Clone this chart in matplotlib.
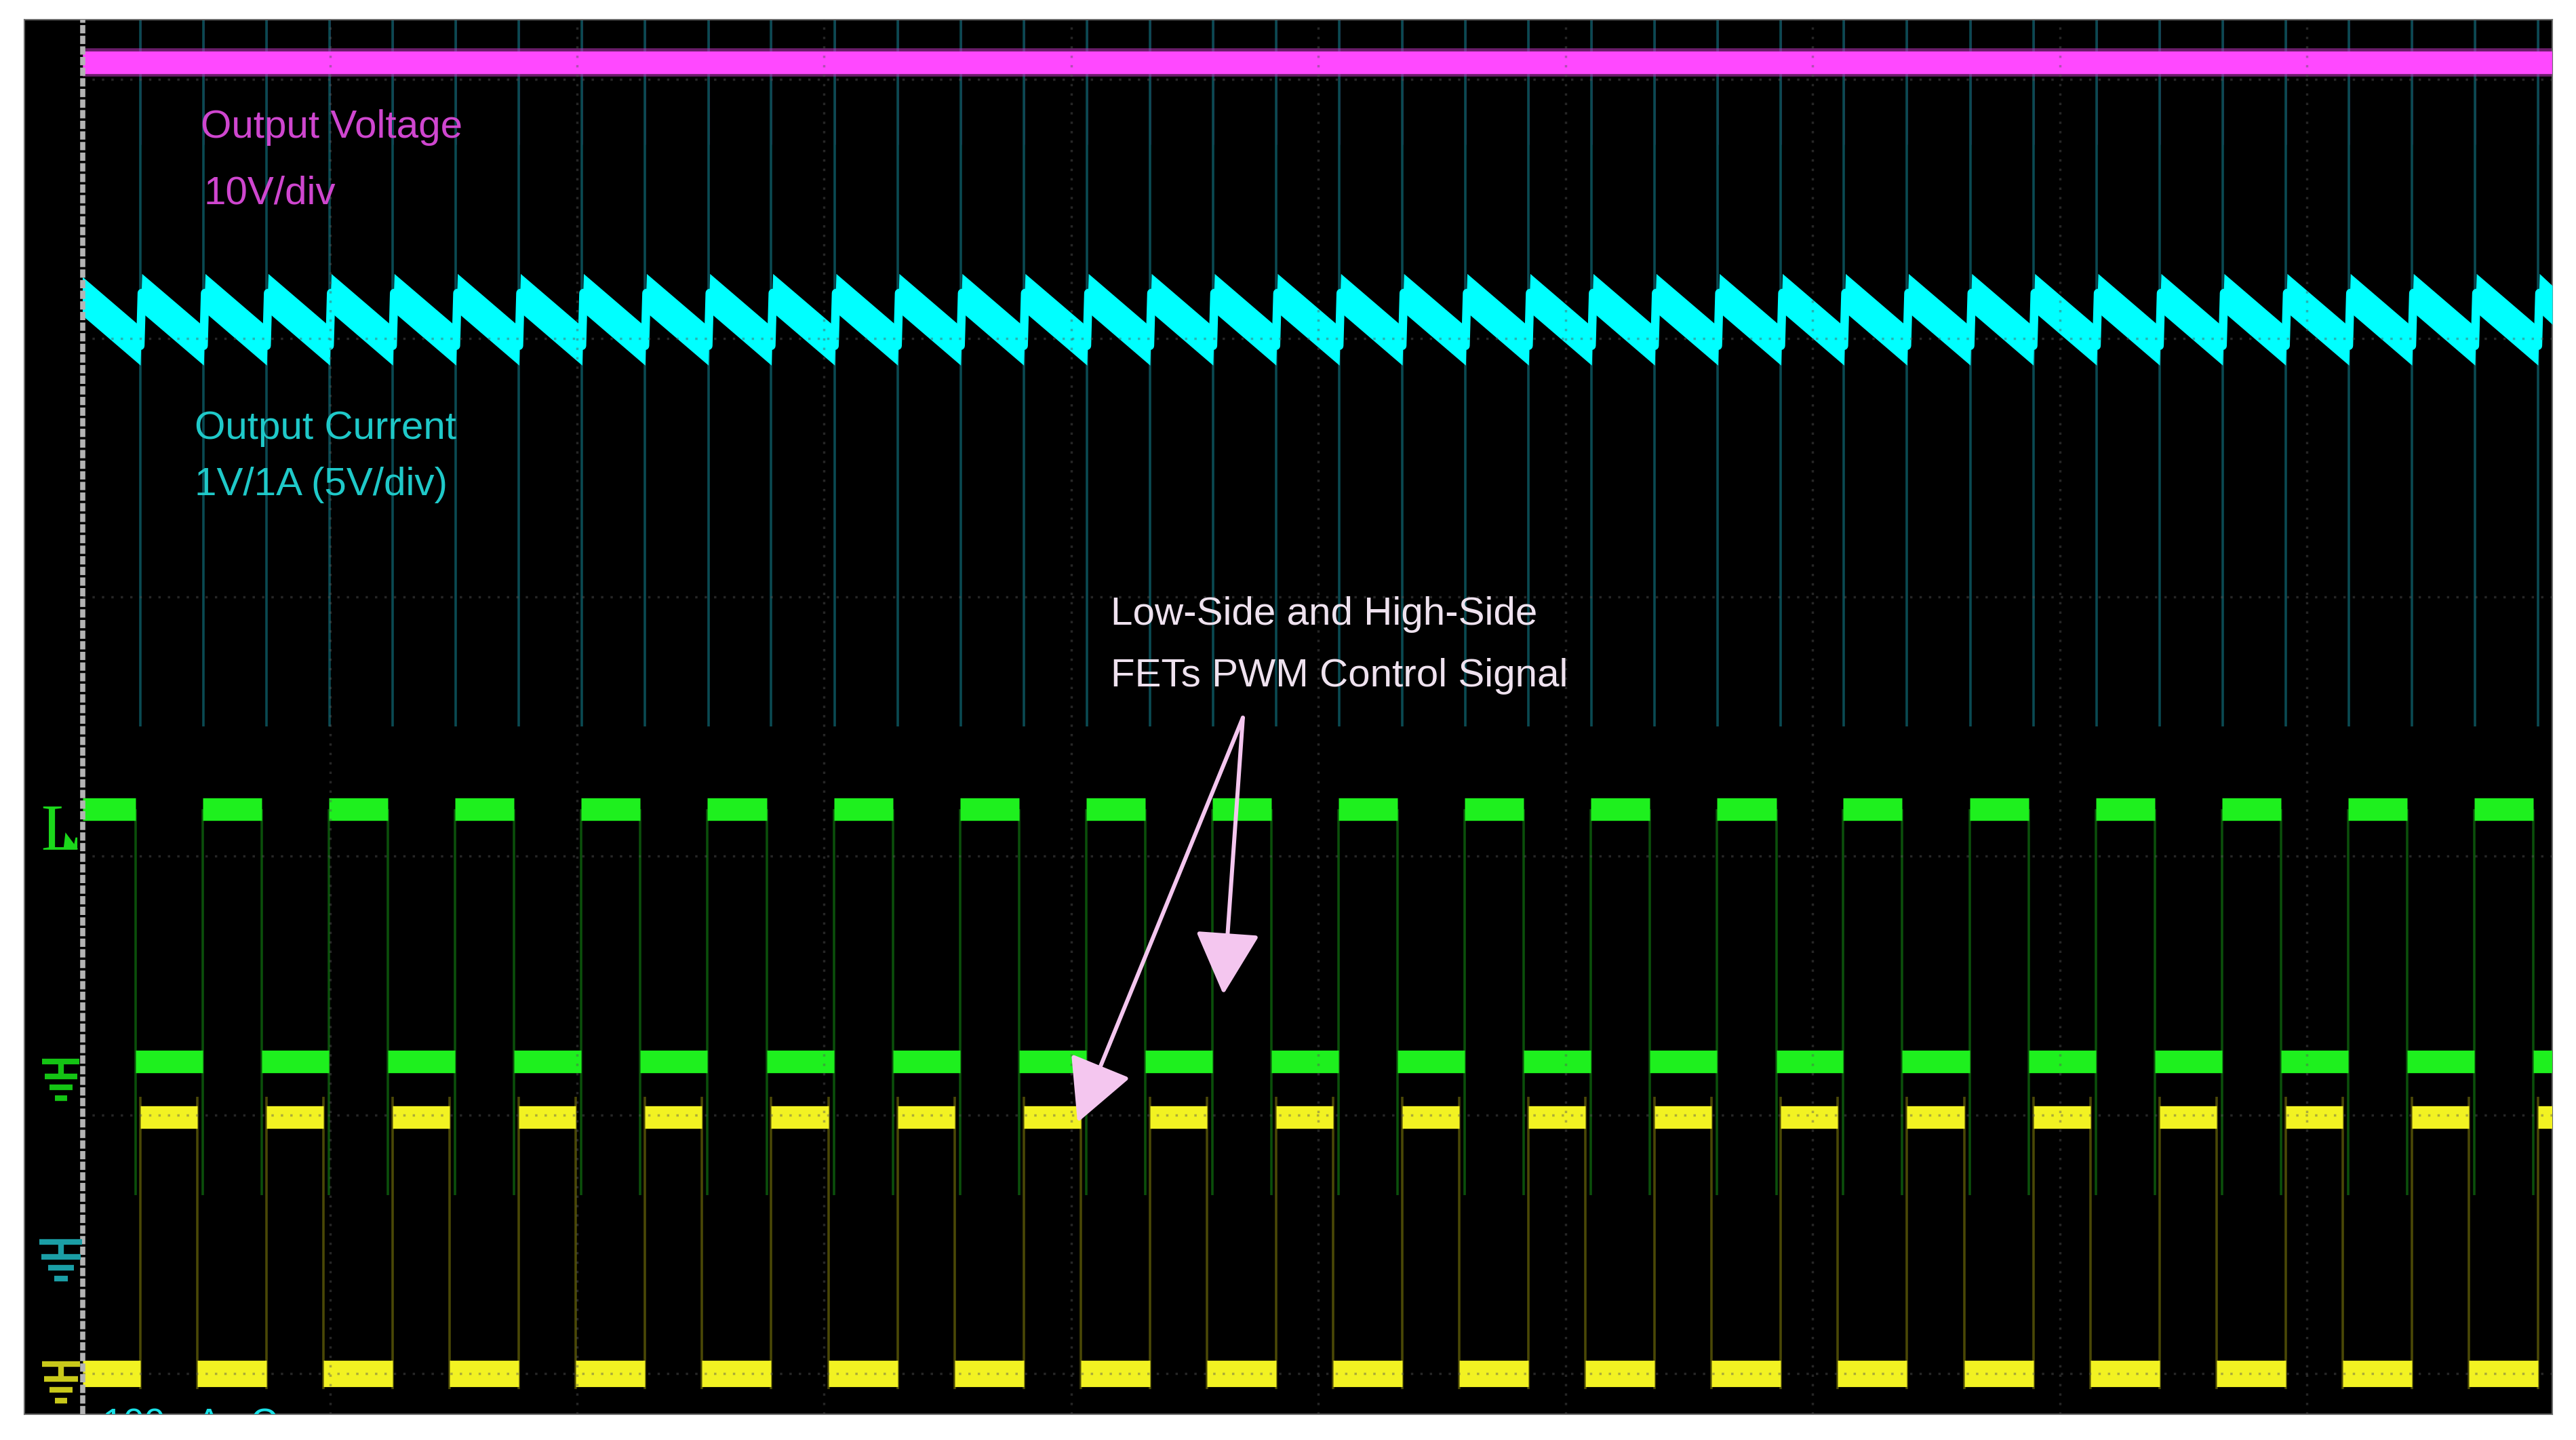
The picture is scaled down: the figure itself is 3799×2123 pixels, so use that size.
import matplotlib
matplotlib.use('Agg')
import matplotlib.pyplot as plt
from matplotlib.patches import Rectangle
import numpy as np

# scope screen: time in divisions (10 across), amplitude in divisions
# edges
green_rise = [-0.025, 0.486, 0.996, 1.507, 2.017, 2.528, 3.039, 3.549, 4.060, 4.570,
              5.081, 5.592, 6.102, 6.613, 7.123, 7.634, 8.145, 8.655, 9.166, 9.676]
green_fall = [0.214, 0.725, 1.235, 1.746, 2.256, 2.767, 3.278, 3.788, 4.299, 4.809,
              5.320, 5.831, 6.341, 6.852, 7.362, 7.873, 8.384, 8.894, 9.405, 9.915]
yellow_rise = [0.233, 0.744, 1.254, 1.765, 2.275, 2.786, 3.297, 3.807, 4.318, 4.828,
               5.339, 5.850, 6.360, 6.871, 7.381, 7.892, 8.403, 8.913, 9.424, 9.934]
yellow_fall = [0.464, 0.974, 1.485, 1.995, 2.506, 3.017, 3.527, 4.038, 4.548, 5.059,
               5.570, 6.080, 6.591, 7.101, 7.612, 8.123, 8.633, 9.144, 9.654]
# output current ripple: start of each sawtooth ramp
iout_ramp = [-0.022, 0.233, 0.489, 0.744, 0.999, 1.254, 1.510, 1.765, 2.020, 2.275,
             2.531, 2.786, 3.042, 3.297, 3.552, 3.807, 4.063, 4.318, 4.573, 4.828,
             5.084, 5.339, 5.595, 5.850, 6.105, 6.360, 6.616, 6.871, 7.126, 7.381,
             7.637, 7.892, 8.148, 8.403, 8.658, 8.913, 9.169, 9.424, 9.679, 9.934]

vout_level = 5.066
iout_peak = 4.175
iout_valley = 3.971
green_high = 2.18
green_low = 1.205
yellow_high = 0.99
yellow_low = 0.0

XMIN, XMAX = -0.236, 9.992
YMIN, YMAX = -0.157, 5.231

fam = ['Liberation Sans Narrow', 'Liberation Sans', 'DejaVu Sans']

fig = plt.figure(figsize=(37.99, 21.23), dpi=100, facecolor='white')
ax = fig.add_axes([36 / 3799, 38 / 2123, 3728 / 3799, 2056 / 2123])
ax.set_facecolor('black')
ax.set_xlim(XMIN, XMAX)
ax.set_ylim(YMIN, YMAX)
ax.set_xticks([])
ax.set_yticks([])
for s in ax.spines.values():
    s.set_color('#6a6a6a')
    s.set_linewidth(1.5)

screen = Rectangle((0, YMIN), XMAX, YMAX - YMIN, transform=ax.transData)


def clip(art):
    if isinstance(art, list):
        for a in art:
            a.set_clip_path(screen)
    else:
        art.set_clip_path(screen)


# output voltage
clip(ax.vlines(iout_ramp, 4.75, YMAX, color='#561656', lw=2.2, zorder=1))
clip(ax.hlines(vout_level, 0, XMAX, color='#b030b0', lw=30, alpha=0.6, zorder=2))
clip(ax.hlines(vout_level, 0, XMAX, color='#ff48ff', lw=24, zorder=3))

# output current spikes + sawtooth
clip(ax.vlines(iout_ramp, 2.5, YMAX, color='#0a4a52', lw=2.6, zorder=1))
dt = 0.006
xs, ys = [], []
for a, b in zip(iout_ramp[:-1], iout_ramp[1:]):
    xs += [a, a + dt]
    ys += [iout_valley, iout_peak]
last = iout_ramp[-1]
span = iout_ramp[-1] - iout_ramp[-2]
xs += [last, last + dt, XMAX]
ys += [iout_valley, iout_peak, iout_peak - (iout_peak - iout_valley) * (XMAX - last) / span]
xs = np.array(xs)
ys = np.array(ys)
clip(ax.fill_between(xs, ys - 0.075, ys + 0.075, color='#00ffff', lw=0, zorder=3))
clip(ax.plot(xs, ys, color='#00ffff', lw=9, zorder=3))

# gate drive signals: dim edges first
g_edges = green_rise + green_fall
clip(ax.vlines(g_edges, 0.69, green_high, color='#0b4f0b', lw=2.6, zorder=1))
y_edges = yellow_rise + yellow_fall
clip(ax.vlines(y_edges, -0.06, yellow_high + 0.08, color='#4a4806', lw=2.6, zorder=1))

g_hi = list(zip(green_rise, green_fall))
g_lo = list(zip(green_fall, green_rise[1:] + [XMAX]))
for a, b in g_hi:
    clip(ax.hlines(green_high, max(a, 0), b, color='#1ef01e', lw=24, zorder=3))
for a, b in g_lo:
    clip(ax.hlines(green_low, a, b, color='#1ef01e', lw=24, zorder=3))

y_hi = list(zip(yellow_rise, yellow_fall + [XMAX]))
y_lo = list(zip([0.0] + yellow_fall, yellow_rise))
for a, b in y_hi:
    clip(ax.hlines(yellow_high, a, b, color='#f2f222', lw=24, zorder=3))
for a, b in y_lo:
    clip(ax.hlines(yellow_low, a, b, color='#f2f222', lw=28, zorder=3))

# graticule, drawn over the traces like the scope does
for gx in range(1, 10):
    ax.vlines(gx, YMIN, YMAX, color='#555555', alpha=0.45, lw=2.5,
              linestyles=(0, (1, 3)), zorder=5)
for gy in range(0, 6):
    ax.hlines(gy, 0, XMAX, color='#555555', alpha=0.45, lw=2.5,
              linestyles=(0, (1, 3)), zorder=5)
ax.plot([0, 0], [YMIN, YMAX], color='#b4b4b4', lw=5.5, ls=(0, (1.6, 0.45)),
        dash_capstyle='butt', zorder=6)

# channel markers in the left strip
ax.text(-0.17, 2.026, 'L', family=['Liberation Serif', 'DejaVu Serif'], fontsize=70,
        color='#1bd81b', va='baseline', ha='left', zorder=6)
ax.fill([-0.078, -0.019, -0.070], [2.026, 2.026, 2.091], color='#1bd81b', lw=0, zorder=6)


def ground(xc, ytop, color, widths):
    dys = [0, -0.058, -0.100, -0.142]
    for dy, w in zip(dys, widths):
        ax.hlines(ytop + dy, xc - w / 2, xc + w / 2, color=color, lw=6, zorder=6)
    ax.vlines(xc, ytop + dys[1], ytop, color=color, lw=6, zorder=6)


ground(-0.088, 1.205, '#14c414', [0.151, 0.132, 0.091, 0.047])
ground(-0.088, 0.508, '#1b9ea6', [0.173, 0.159, 0.104, 0.055])
ground(-0.088, 0.037, '#c8c81a', [0.156, 0.137, 0.091, 0.047])

# labels
ax.text(0.477, 4.775, 'Output Voltage', color='#cf46cf', fontsize=42, family=fam, zorder=7)
ax.text(0.491, 4.520, '10V/div', color='#cf46cf', fontsize=42, family=fam, zorder=7)
ax.text(0.453, 3.611, 'Output Current', color='#1fc9c9', fontsize=42, family=fam, zorder=7)
ax.text(0.453, 3.394, '1V/1A (5V/div)', color='#1fc9c9', fontsize=42, family=fam, zorder=7)
ax.text(4.159, 2.893, 'Low-Side and High-Side', color='#efe2ef', fontsize=42, family=fam, zorder=7)
ax.text(4.159, 2.655, 'FETs PWM Control Signal', color='#efe2ef', fontsize=42, family=fam, zorder=7)
ax.text(0.08, -0.131, '100mA   \u03a9', color='#19e0e6', fontsize=40, family=fam,
        va='top', zorder=7, clip_on=True)

arrow = dict(arrowstyle='-|>,head_length=0.58,head_width=0.3', mutation_scale=100,
             lw=4.3, color='#f4c6ef', shrinkA=0, shrinkB=0)
ax.annotate('', xy=(4.025, 0.970), xytext=(4.694, 2.534), arrowprops=arrow, zorder=8)
ax.annotate('', xy=(4.615, 1.465), xytext=(4.694, 2.534), arrowprops=arrow, zorder=8)

fig.savefig('out.png', dpi=100, facecolor='white')
